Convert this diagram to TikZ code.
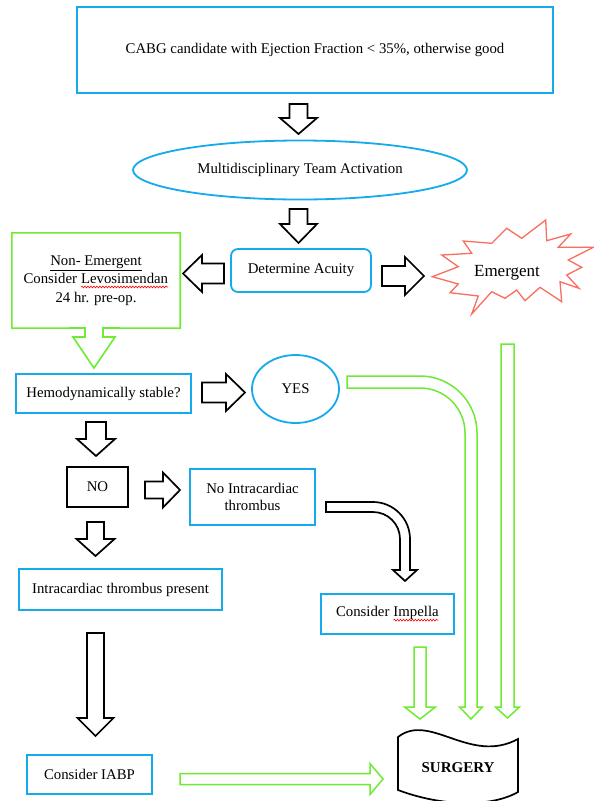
\documentclass[tikz,border=0pt]{standalone}
\usepackage{fontspec}
\setmainfont{Liberation Serif}
\usetikzlibrary{shapes.geometric,decorations.pathmorphing}
\definecolor{bl}{RGB}{20,170,235}
\definecolor{gr}{RGB}{110,235,50}
\definecolor{rd}{RGB}{250,110,95}
\newcommand\redsquig[1]{\tikz[baseline=0pt,x=1pt,y=1pt]{\node[shape=rectangle, draw=none, fill=none, inner sep=0pt, outer sep=0pt, minimum width=0pt, minimum height=0pt, rounded corners=0pt, anchor=base west] (sqw) at (0,0) {#1}; \draw[red, line width=0.6pt, decorate, decoration={snake, amplitude=0.9pt, segment length=3pt}] (0,-3.2) -- (sqw.base east |- 0,-3.2);}}
% down block arrow: style, cx, top, base, tip, shaft half, head half
\newcommand\blkDown[7]{\draw[#1] ({#2-#6},#3) -- ({#2+#6},#3) -- ({#2+#6},#4) -- ({#2+#7},#4) -- (#2,#5) -- ({#2-#7},#4) -- ({#2-#6},#4) -- cycle;}
% right block arrow: style, cy, left, base, tip, shaft half, head half
\newcommand\blkRight[7]{\draw[#1] (#3,{#2-#6}) -- (#4,{#2-#6}) -- (#4,{#2-#7}) -- (#5,#2) -- (#4,{#2+#7}) -- (#4,{#2+#6}) -- (#3,{#2+#6}) -- cycle;}
\tikzset{
  every node/.style={font=\fontsize{14.8}{17}\selectfont},
  bbox/.style={draw=bl, line width=1.8pt, rectangle},
  bell/.style={draw=bl, line width=1.8pt, ellipse},
  blk/.style={draw=black, line width=1.7pt, fill=white, line join=miter},
  grn/.style={draw=gr, line width=1.5pt, fill=white, line join=miter},
  gbox/.style={draw=gr, line width=1.6pt, line join=miter},
}
\begin{document}
\begin{tikzpicture}[x=1pt,y=-1pt]
\fill[white] (0,0) rectangle (594,801);
\useasboundingbox (0,0) rectangle (594,801);

% nodes
\node[bbox, minimum width=476pt, minimum height=86pt] (top) at (315,50) {CABG candidate with Ejection Fraction < 35\%, otherwise good};
\node[bell, minimum width=334pt, minimum height=59pt] (mdt) at (300,170) {Multidisciplinary Team Activation};
\node[bbox, rounded corners=7pt, minimum width=140pt, minimum height=43pt] (acuity) at (301,270.5) {Determine Acuity};
\node[align=center, minimum width=168pt, minimum height=95pt, font=\fontsize{14.8}{18.5}\selectfont] (nonem) at (96,280.5) {\underline{Non- Emergent}\\Consider \redsquig{Levosimendan}\\24 hr. pre-op.};
\draw[gbox] (nonem.north west) -- (nonem.north east) -- (nonem.south east) -- (103,328) -- (103,337) -- (115,337) -- (94,368) -- (73,337) -- (85,337) -- (85,328) -- (nonem.south west) -- cycle;

% emergent star
\draw[draw=rd, line width=1.3pt, line join=miter]
  (545.7,220) -- (546.7,240.7) -- (570.7,234) -- (558.3,247.3) -- (593.3,247.3) -- (568.3,260) -- (581.7,267.3) -- (566.7,275) -- (579,288.3) -- (560,281.7) -- (561.7,301.7) -- (540,287.3) -- (525,300.7) -- (516.7,290) -- (505,298.3) -- (491.7,291.7) -- (471.7,314) -- (478.3,296) -- (450,292.7) -- (458.3,284) -- (432.3,276.7) -- (458.3,266.7) -- (441.7,255) -- (471.7,253.3) -- (463.3,241) -- (491.7,243.3) -- (506.7,228.3) -- (521.7,238.3) -- cycle;
\node[font=\fontsize{17}{20}\selectfont] (emerg) at (507,273) {Emergent};

\node[bbox, minimum width=175pt, minimum height=39pt] (hemo) at (103.5,393.5) {Hemodynamically stable?};
\node[bell, minimum width=87pt, minimum height=68pt] (yes) at (295.5,389) {YES};
\node[draw=black, line width=1.7pt, minimum width=61pt, minimum height=40pt] (no) at (97.5,487) {NO};
\node[bbox, align=center, minimum width=125pt, minimum height=56pt, font=\fontsize{14.8}{16.5}\selectfont] (nointra) at (252.5,497) {No Intracardiac\\thrombus};
\node[bbox, minimum width=203pt, minimum height=41pt] (present) at (120.5,589.5) {Intracardiac thrombus present};
\node[bbox, minimum width=133pt, minimum height=40pt] (impella) at (387.5,614) {Consider \redsquig{Impella}};
\node[bbox, minimum width=125pt, minimum height=39pt] (iabp) at (89.5,774.5) {Consider IABP};

% surgery tape shape
\draw[draw=black, line width=1.7pt, fill=white]
  (398,737) .. controls (430,712) and (470,765) .. (518,739) -- (518,792)
  .. controls (490,808) and (440,806) .. (398,790) -- cycle;
\node[font=\bfseries\fontsize{15}{17}\selectfont] (surg) at (458,768) {SURGERY};

% black block arrows
\blkDown{blk}{298.5}{104}{118}{134}{9}{18.5}
\blkDown{blk}{298.5}{209}{224}{243}{9}{18.5}
\draw[blk] (224,263.5) -- (202,263.5) -- (202,255) -- (183,273.5) -- (202,292) -- (202,283.5) -- (224,283.5) -- cycle;
\blkRight{blk}{276}{382}{405}{424}{10}{19}
\blkRight{blk}{392.5}{202}{226}{245}{10}{18.5}
\blkDown{blk}{96}{422}{439}{456}{10}{19}
\blkRight{blk}{490}{145}{163}{180}{8.5}{17.5}
\blkDown{blk}{95.5}{522}{539}{556}{8.5}{19}
\blkDown{blk}{95.5}{633}{718}{736}{8.5}{18}
\draw[blk] (326,502) -- (373,502) .. controls (393.4,502) and (410,518.6) .. (410,539) -- (410,570) -- (417,570) -- (405,581) -- (393,570) -- (400,570) -- (400,539) .. controls (400,524.1) and (387.9,512) .. (373,512) -- (326,512) -- cycle;

% green block arrows
\draw[grn] (347,376) -- (420,376) .. controls (451.5,376) and (477,401.5) .. (477,433) -- (477,707) -- (482.5,707) -- (471,719) -- (459.5,707) -- (465,707) -- (465,433) .. controls (465,408.1) and (444.9,388) .. (420,388) -- (347,388) -- cycle;
\blkDown{grn}{507.5}{344}{707}{718}{6.5}{12}
\blkDown{grn}{420}{647}{707}{719}{6}{15.5}
\blkRight{grn}{779}{180}{370}{383}{5.5}{15.5}
\end{tikzpicture}
\end{document}
